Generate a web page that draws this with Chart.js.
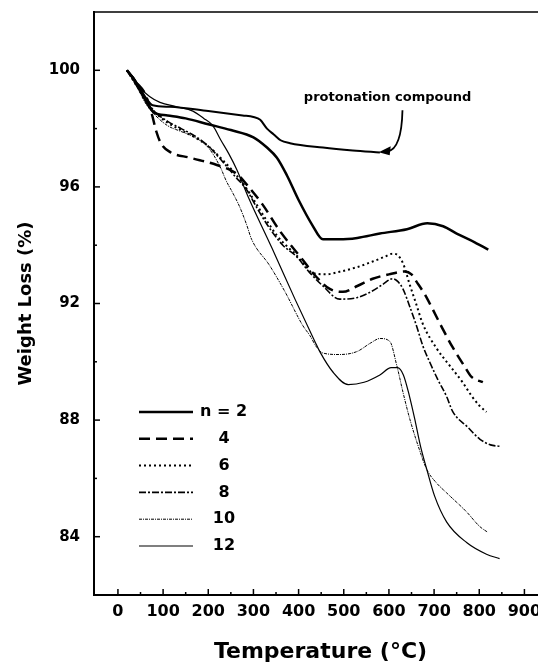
<!DOCTYPE html>
<html>
<head>
<meta charset="utf-8">
<script src="https://cdn.jsdelivr.net/npm/chart.js@4.4.1/dist/chart.umd.min.js"></script>
<style>
  html, body { margin: 0; padding: 0; background: #fff; overflow: hidden; }
  canvas { display: block; }
</style>
</head>
<body>
<canvas id="tga-chart" width="560" height="665"></canvas>
<script>
// TGA curves: temperature (°C) / weight (%)
const tempN2 = [20, 35, 50, 65, 80, 110, 150, 200, 250, 300, 330, 352, 374, 400, 430, 454, 490, 530, 580, 640, 685, 720, 750, 790, 820];
const lossN2 = [100, 99.7, 99.3, 98.85, 98.55, 98.45, 98.35, 98.15, 97.95, 97.7, 97.35, 97.0, 96.4, 95.55, 94.7, 94.2, 94.2, 94.25, 94.4, 94.55, 94.75, 94.65, 94.4, 94.1, 93.85];

const tempN4 = [20, 40, 60, 75, 85, 95, 115, 160, 219, 263, 292, 320, 358, 409, 440, 469, 498, 530, 564, 600, 635, 650, 661, 680, 697, 719, 741, 768, 783, 808];
const lossN4 = [100, 99.6, 99.2, 98.5, 97.9, 97.5, 97.2, 97.0, 96.75, 96.45, 95.95, 95.4, 94.5, 93.5, 92.9, 92.5, 92.4, 92.6, 92.85, 93.0, 93.1, 93.0, 92.75, 92.3, 91.8, 91.13, 90.5, 89.83, 89.48, 89.3];

const tempN6 = [20, 40, 60, 80, 110, 140, 170, 200, 230, 260, 280, 299, 325, 352, 375, 396, 415, 431, 460, 491, 530, 564, 590, 608, 620, 632, 645, 660, 675, 706, 735, 763, 783, 800, 816];
const lossN6 = [100, 99.5, 99.0, 98.6, 98.2, 97.95, 97.7, 97.4, 96.95, 96.45, 96.05, 95.6, 94.95, 94.33, 93.95, 93.64, 93.3, 93.05, 93.0, 93.09, 93.25, 93.44, 93.6, 93.71, 93.65, 93.35, 92.7, 92.0, 91.3, 90.45, 89.86, 89.3, 88.83, 88.5, 88.28];

const tempN8 = [20, 40, 60, 80, 110, 140, 170, 200, 230, 260, 285, 307, 335, 365, 396, 425, 454, 491, 529, 560, 586, 608, 620, 631, 646, 661, 675, 690, 708, 728, 741, 775, 801, 825, 845];
const lossN8 = [100, 99.5, 99.0, 98.6, 98.25, 98.0, 97.75, 97.4, 96.9, 96.35, 95.9, 95.3, 94.6, 94.0, 93.6, 93.05, 92.6, 92.15, 92.2, 92.4, 92.65, 92.85, 92.75, 92.5, 91.9, 91.24, 90.55, 90.0, 89.4, 88.8, 88.3, 87.75, 87.35, 87.15, 87.1];

const tempN10 = [20, 40, 60, 80, 110, 140, 170, 200, 226, 240, 254, 270, 285, 296, 336, 370, 409, 425, 440, 454, 490, 529, 560, 580, 602, 617, 632, 646, 665, 684, 705, 728, 772, 801, 819];
const lossN10 = [100, 99.5, 98.9, 98.5, 98.1, 97.9, 97.7, 97.35, 96.7, 96.2, 95.8, 95.3, 94.7, 94.2, 93.3, 92.4, 91.25, 90.9, 90.5, 90.3, 90.25, 90.35, 90.65, 90.8, 90.7, 89.9, 88.9, 88.05, 87.1, 86.3, 85.85, 85.5, 84.85, 84.35, 84.15];

const tempN12 = [20, 35, 50, 70, 93, 130, 166, 190, 210, 228, 245, 263, 290, 341, 392, 436, 447, 476, 510, 545, 580, 605, 619, 632, 645, 657, 670, 684, 701, 728, 772, 816, 845];
const lossN12 = [100, 99.75, 99.4, 99.1, 98.9, 98.75, 98.6, 98.35, 98.1, 97.6, 97.15, 96.6, 95.6, 93.9, 92.15, 90.7, 90.35, 89.65, 89.22, 89.3, 89.55, 89.8, 89.8, 89.55, 88.85, 88.05, 87.1, 86.3, 85.4, 84.5, 83.8, 83.4, 83.25];

const tempProton = [20, 40, 60, 77, 115, 200, 276, 300, 315, 330, 345, 360, 381, 454, 520, 580];
const lossProton = [100, 99.6, 99.1, 98.8, 98.75, 98.6, 98.45, 98.4, 98.3, 98.0, 97.8, 97.6, 97.5, 97.35, 97.25, 97.18];

const legendLabels = ['n = 2', '4', '6', '8', '10', '12'];
const xTicks = [0, 100, 200, 300, 400, 500, 600, 700, 800, 900];
const xMinorTicks = [50, 150, 250, 350, 450, 550, 650, 750, 850];
const yTicks = [84, 88, 92, 96, 100];
const yMinorTicks = [86, 90, 94, 98];

const FONT = "'DejaVu Sans', 'Liberation Sans', Arial, sans-serif";

function zip(xs, ys) {
    return xs.map((x, i) => ({ x: x, y: ys[i] }));
}

function series(label, xs, ys, width, dash) {
    return {
        label: label,
        data: zip(xs, ys),
        borderColor: '#000',
        borderWidth: width,
        borderDash: dash,
        pointRadius: 0,
        fill: false,
        cubicInterpolationMode: 'monotone',
    };
}

const datasets = [
    series('n = 2', tempN2, lossN2, 2.5, []),
    series('4', tempN4, lossN4, 2.5, [11, 6]),
    series('6', tempN6, lossN6, 2, [2, 3]),
    series('8', tempN8, lossN8, 1.6, [7, 2, 2, 2]),
    series('10', tempN10, lossN10, 1, [3, 1, 1, 1]),
    series('12', tempN12, lossN12, 1.2, []),
    series('protonation compound', tempProton, lossProton, 2, []),
];

// box, inward tick marks, in-plot legend and the arrow note
const decorations = {
    id: 'decorations',
    afterDraw(chart) {
        const { ctx, chartArea: a, scales: { x, y } } = chart;
        ctx.save();
        ctx.strokeStyle = '#000';
        ctx.fillStyle = '#000';

        ctx.lineWidth = 1.5;
        ctx.beginPath();
        ctx.moveTo(a.left, a.top);
        ctx.lineTo(a.right, a.top);
        ctx.lineTo(a.right, a.bottom);
        ctx.stroke();

        const tick = (x1, y1, x2, y2) => {
            ctx.beginPath();
            ctx.moveTo(x1, y1);
            ctx.lineTo(x2, y2);
            ctx.stroke();
        };
        ctx.lineWidth = 1.5;
        xTicks.forEach(v => { const p = x.getPixelForValue(v); tick(p, a.bottom, p, a.bottom - 6); });
        xMinorTicks.forEach(v => { const p = x.getPixelForValue(v); tick(p, a.bottom, p, a.bottom - 3); });
        yTicks.forEach(v => { const p = y.getPixelForValue(v); tick(a.left, p, a.left + 6, p); });
        yMinorTicks.forEach(v => { const p = y.getPixelForValue(v); tick(a.left, p, a.left + 3, p); });

        // legend
        ctx.font = 'bold 16px ' + FONT;
        ctx.textBaseline = 'middle';
        legendLabels.forEach((lab, i) => {
            const ds = chart.data.datasets[i];
            const rowY = 412 + i * 26.8;
            ctx.lineWidth = ds.borderWidth;
            ctx.setLineDash(ds.borderDash);
            tick(139, rowY, 193, rowY);
            ctx.setLineDash([]);
            if (i === 0) {
                ctx.textAlign = 'left';
                ctx.fillText(lab, 200, rowY);
            } else {
                ctx.textAlign = 'center';
                ctx.fillText(lab, 224, rowY);
            }
        });

        // protonation compound note with curved arrow
        ctx.font = 'bold 13px ' + FONT;
        ctx.textAlign = 'center';
        ctx.fillText('protonation compound', x.getPixelForValue(597), y.getPixelForValue(99.07));
        const sx = x.getPixelForValue(630), sy = y.getPixelForValue(98.63);
        const cx = x.getPixelForValue(628), cy = y.getPixelForValue(97.3);
        const ex = x.getPixelForValue(584), ey = y.getPixelForValue(97.22);
        ctx.lineWidth = 1.8;
        ctx.beginPath();
        ctx.moveTo(sx, sy);
        ctx.quadraticCurveTo(cx, cy, ex + 6, ey);
        ctx.stroke();
        ctx.beginPath();
        ctx.moveTo(ex - 3, ey + 1);
        ctx.lineTo(ex + 9, ey - 5);
        ctx.lineTo(ex + 8, ey + 4);
        ctx.closePath();
        ctx.fill();
        ctx.restore();
    }
};

new Chart(document.getElementById('tga-chart').getContext('2d'), {
    type: 'line',
    data: { datasets: datasets },
    options: {
        responsive: false,
        animation: false,
        layout: { padding: { top: 12, right: 13, left: 0, bottom: 0 } },
        plugins: {
            legend: { display: false },
            tooltip: { enabled: false },
        },
        scales: {
            x: {
                type: 'linear',
                min: -53,
                max: 950,
                afterFit: (s) => { s.height = 70; s.paddingLeft = 0; s.paddingRight = 0; },
                afterBuildTicks: (s) => { s.ticks = xTicks.map(v => ({ value: v })); },
                grid: { display: false, drawTicks: false },
                border: { display: true, color: '#000', width: 2 },
                ticks: {
                    color: '#000',
                    padding: 7,
                    autoSkip: false,
                    maxRotation: 0,
                    font: { family: FONT, size: 16, weight: 'bold' },
                },
                title: {
                    display: true,
                    text: 'Temperature (°C)',
                    color: '#000',
                    padding: { top: 0, bottom: 0 },
                    font: { family: FONT, size: 22, weight: 'bold' },
                },
            },
            y: {
                min: 82,
                max: 102,
                afterFit: (s) => { s.width = 94; s.paddingTop = 0; s.paddingBottom = 0; },
                afterBuildTicks: (s) => { s.ticks = yTicks.map(v => ({ value: v })); },
                grid: { display: false, drawTicks: false },
                border: { display: true, color: '#000', width: 2 },
                ticks: {
                    color: '#000',
                    padding: 14,
                    font: { family: FONT, size: 15, weight: 'bold' },
                },
                title: {
                    display: true,
                    text: 'Weight Loss (%)',
                    color: '#000',
                    padding: { top: 16, bottom: 0 },
                    font: { family: FONT, size: 18, weight: 'bold' },
                },
            },
        },
    },
    plugins: [decorations],
});
</script>
</body>
</html>
